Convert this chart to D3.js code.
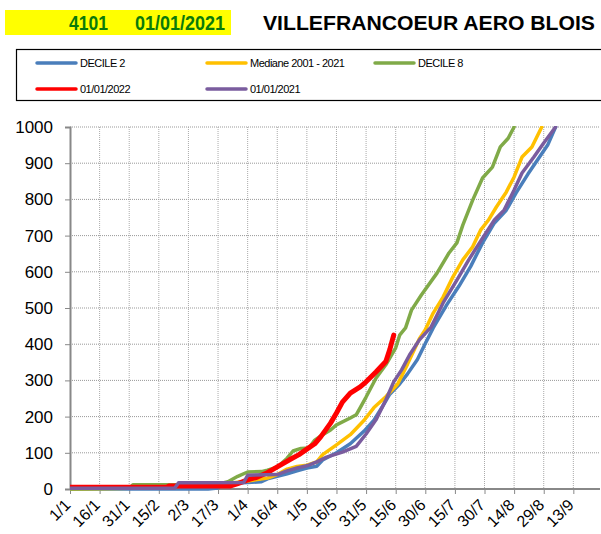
<!DOCTYPE html>
<html>
<head>
<meta charset="utf-8">
<script src="https://cdn.jsdelivr.net/npm/d3@7/dist/d3.min.js"></script>
<style>
  body { margin: 0; background: #fff; }
  text { font-family: "Liberation Sans", Arial, sans-serif; }
</style>
</head>
<body>
<script>
// day of year (0 = 1 Jan) and cumulated value
const decile2 = [[0,0],[70,0],[75,3],[78,15],[90,18],[97,20],[100,28],[105,35],[110,42],[115,50],[120,58],[125,63],[128,80],[135,100],[142,125],[149,160],[154,190],[158,225],[162,262],[167,290],[171,318],[176,358],[180,402],[184,445],[191,510],[197,560],[203,615],[209,680],[215,735],[221,770],[226,818],[232,870],[237,910],[242,950],[246,1000]];
const mediane = [[0,0],[30,2],[60,8],[75,10],[80,15],[90,22],[100,30],[105,40],[110,55],[115,62],[120,66],[125,75],[128,95],[135,122],[142,150],[149,190],[154,225],[160,255],[166,290],[171,345],[177,415],[180,440],[184,486],[189,530],[194,586],[199,633],[204,669],[208,715],[212,743],[216,779],[221,820],[225,862],[229,917],[234,945],[239,1000]];
const decile8 = [[0,0],[30,2],[32,12],[74,12],[80,20],[85,35],[90,47],[97,48],[100,52],[105,60],[110,85],[113,105],[117,112],[121,113],[124,135],[128,150],[132,163],[135,177],[142,196],[145,205],[150,254],[155,306],[160,343],[165,390],[167,425],[170,445],[173,494],[178,536],[186,597],[192,652],[196,680],[199,729],[204,798],[209,859],[214,889],[218,945],[222,969],[225,1000]];
const annee2022 = [[0,5],[49,5],[50,8],[81,8],[85,15],[90,25],[95,33],[100,45],[105,61],[111,80],[116,95],[120,110],[124,125],[127,144],[132,182],[135,210],[138,240],[142,265],[147,282],[150,296],[155,323],[160,352],[162,385],[164,425]];
const annee2021 = [[0,2],[53,2],[55,17],[88,18],[90,38],[105,40],[110,50],[115,58],[120,64],[125,75],[130,88],[138,102],[145,118],[150,152],[155,191],[160,246],[164,296],[168,329],[172,370],[177,412],[183,448],[189,514],[196,577],[202,633],[209,693],[215,743],[220,771],[225,826],[229,873],[235,917],[240,956],[246,1000]];

const tickDays = [0,15,30,45,60,75,90,105,120,135,150,165,180,195,210,225,240,255];
const tickLabels = ["1/1","16/1","31/1","15/2","2/3","17/3","1/4","16/4","1/5","16/5","31/5","15/6","30/6","15/7","30/7","14/8","29/8","13/9"];
const yTicks = [0,100,200,300,400,500,600,700,800,900,1000];

const series = [
  {name: "DECILE 2", data: decile2, color: "#4a7ebb", w: 3.5},
  {name: "Mediane 2001 - 2021", data: mediane, color: "#ffc000", w: 3.5},
  {name: "DECILE 8", data: decile8, color: "#80aa48", w: 3.5},
  {name: "01/01/2022", data: annee2022, color: "#ff0000", w: 5},
  {name: "01/01/2021", data: annee2021, color: "#7a5c9e", w: 3.5}
];

const W = 601, H = 534;
const svg = d3.select("body").append("svg").attr("width", W).attr("height", H);

const x = d3.scaleLinear().domain([0, 268]).range([70, 599]);
const y = d3.scaleLinear().domain([0, 1000]).range([489, 127]);

// title
svg.append("rect").attr("x", 5).attr("y", 10).attr("width", 226).attr("height", 25).attr("fill", "#ffff00");
svg.append("text").attr("x", 69).attr("y", 30).attr("fill", "#0a7a0a")
  .style("font-weight", "bold").style("font-size", "20px")
  .attr("textLength", 39).attr("lengthAdjust", "spacingAndGlyphs").text("4101");
svg.append("text").attr("x", 135).attr("y", 30).attr("fill", "#0a7a0a")
  .style("font-weight", "bold").style("font-size", "20px")
  .attr("textLength", 90).attr("lengthAdjust", "spacingAndGlyphs").text("01/01/2021");
svg.append("text").attr("x", 263).attr("y", 30).attr("fill", "#000")
  .style("font-weight", "bold").style("font-size", "20px")
  .attr("textLength", 332).attr("lengthAdjust", "spacingAndGlyphs")
  .text("VILLEFRANCOEUR AERO BLOIS");

// legend
svg.append("rect").attr("x", 16.5).attr("y", 49.5).attr("width", 600).attr("height", 51)
  .attr("fill", "none").attr("stroke", "#000").attr("stroke-width", 1.2);
const legPos = [[37, 63], [207, 63], [375, 63], [37, 89], [207, 89]];
series.forEach((s, i) => {
  const [lx, ly] = legPos[i];
  svg.append("line").attr("x1", lx).attr("x2", lx + 39).attr("y1", ly).attr("y2", ly)
    .attr("stroke", s.color).attr("stroke-width", 3.5).attr("stroke-linecap", "round");
  svg.append("text").attr("x", lx + 43).attr("y", ly + 4).style("font-size", "11px")
    .style("letter-spacing", "-0.5px").attr("fill", "#000").text(s.name);
});

// grid
const grid = svg.append("g");
grid.selectAll(".hg").data(yTicks.slice(1)).join("line")
  .attr("x1", x(0)).attr("x2", 600).attr("y1", d => y(d)).attr("y2", d => y(d))
  .attr("stroke", "#999").attr("stroke-dasharray", "1,1");
grid.selectAll(".vg").data(tickDays.slice(1)).join("line")
  .attr("x1", d => x(d)).attr("x2", d => x(d)).attr("y1", y(1000)).attr("y2", y(0))
  .attr("stroke", "#aaa").attr("stroke-dasharray", "1,1");

// axes
const yAxis = svg.append("g").attr("transform", `translate(${x(0)},0)`)
  .call(d3.axisLeft(y).tickValues(yTicks).tickFormat(d3.format("d")).tickSize(5).tickPadding(12));
yAxis.select(".domain").attr("stroke", "#888").attr("stroke-width", 2);
yAxis.selectAll(".tick line").attr("stroke", "#888");
yAxis.selectAll("text").style("font-size", "17px").attr("fill", "#000");

const xAxis = svg.append("g").attr("transform", `translate(0,${y(0)})`)
  .call(d3.axisBottom(x).tickValues(tickDays).tickFormat((d, i) => tickLabels[i]).tickSize(5).tickSizeOuter(0));
xAxis.select(".domain").attr("stroke", "#888").attr("stroke-width", 2).attr("d", `M${x(0)},0H600`);
xAxis.selectAll(".tick line").attr("stroke", "#888");
xAxis.selectAll("text").style("font-size", "16px").attr("fill", "#000")
  .attr("text-anchor", "end").attr("dy", 0).attr("y", 0)
  .attr("transform", "translate(1,17) rotate(-45)");

// lines
svg.append("clipPath").attr("id", "clip").append("rect")
  .attr("x", x(0)).attr("y", y(1000) - 1).attr("width", 540).attr("height", y(0) - y(1000) + 4);
const line = d3.line().x(d => x(d[0])).y(d => y(d[1]));
svg.append("g").attr("clip-path", "url(#clip)")
  .selectAll("path").data(series).join("path")
  .attr("d", d => line(d.data)).attr("fill", "none")
  .attr("stroke", d => d.color).attr("stroke-width", d => d.w)
  .attr("stroke-linejoin", "round").attr("stroke-linecap", "round");
</script>
</body>
</html>
